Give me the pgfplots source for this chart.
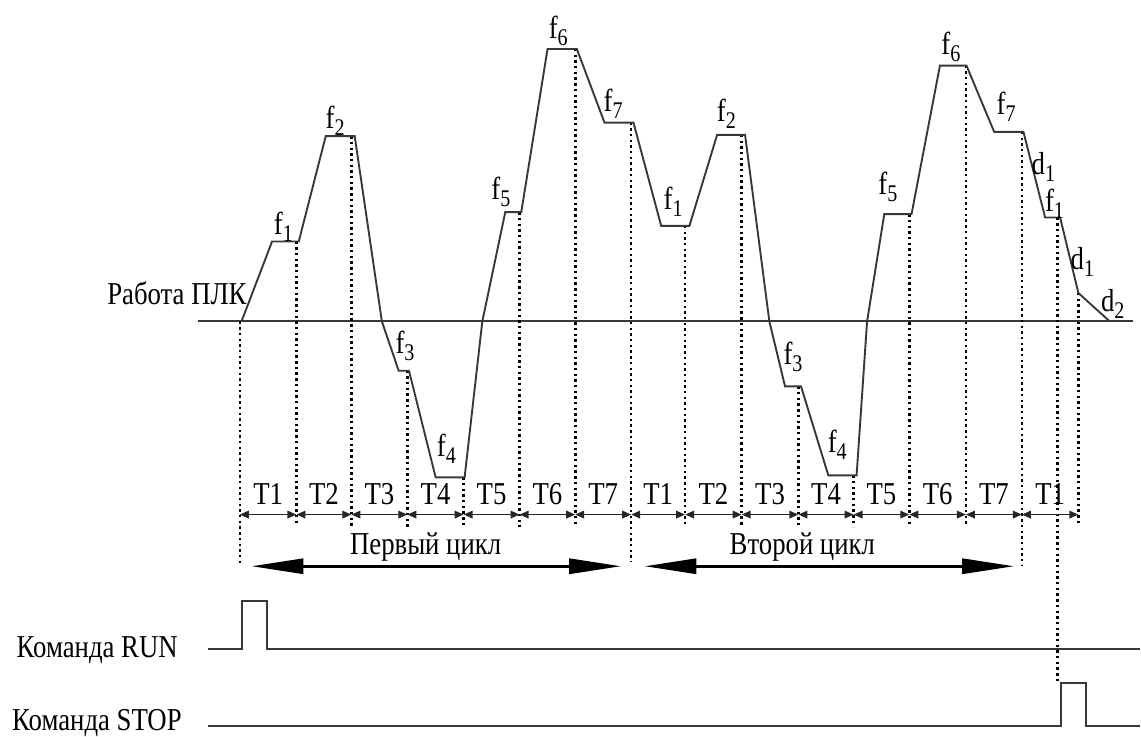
\documentclass[border=0pt]{standalone}
\usepackage{fontspec}
\setmainfont{Liberation Serif}[FakeStretch=0.84]
\usepackage{pgfplots}
\pgfplotsset{compat=1.18}
\usetikzlibrary{arrows.meta}
\newcommand\sub[1]{\raisebox{-7bp}{\fontsize{24}{24}\selectfont #1}}
\tikzset{
  lbl/.style={font=\fontsize{32}{34}\selectfont, inner sep=0pt, text=black},
  dotl/.style={black, line width=2.6bp, dash pattern=on 2.4bp off 3.3bp},
  tarr/.style={black!85, line width=1.8bp, {Triangle[length=9bp,width=7.5bp]}-{Triangle[length=9bp,width=7.5bp]}},
  carr/.style={black, line width=3bp, {Triangle[length=52bp,width=15bp]}-{Triangle[length=52bp,width=15bp]}},
  curve/.style={black!78, line width=1.9bp, line join=miter},
}
\begin{document}
\begin{tikzpicture}
\begin{axis}[width=1141bp, height=737bp, scale only axis, hide axis,
  xmin=0, xmax=1141, ymin=0, ymax=737, y dir=reverse, clip=false]
\path (rel axis cs:0,0) rectangle (rel axis cs:1,1);
% baseline
\addplot[black!78, line width=1.9bp] coordinates {(198,321.7) (1134,321.7)};
% dotted verticals
\addplot[dotl] coordinates {(240,321.7) (240,566.7)};
\addplot[dotl] coordinates {(296.7,241.7) (296.7,523)};
\addplot[dotl] coordinates {(351.7,136.3) (351.7,527)};
\addplot[dotl] coordinates {(407.7,371) (407.7,527)};
\addplot[dotl] coordinates {(464,477.7) (464,527)};
\addplot[dotl] coordinates {(520,212.3) (520,527)};
\addplot[dotl] coordinates {(575.7,49) (575.7,527)};
\addplot[dotl] coordinates {(631.7,122.7) (631.7,561.7)};
\addplot[dotl] coordinates {(685.7,226) (685.7,527)};
\addplot[dotl] coordinates {(742.3,135) (742.3,527)};
\addplot[dotl] coordinates {(799,386.7) (799,527)};
\addplot[dotl] coordinates {(854.3,475.7) (854.3,527)};
\addplot[dotl] coordinates {(910,214.3) (910,527)};
\addplot[dotl] coordinates {(966.7,65.7) (966.7,527)};
\addplot[dotl] coordinates {(1022.7,132) (1022.7,566.7)};
\addplot[dotl] coordinates {(1058.3,217.7) (1058.3,683)};
\addplot[dotl] coordinates {(1079.3,293.3) (1079.3,525)};
% main curve
\addplot[curve] coordinates {
(241.7,321.7) (272.3,241.7) (299,241.7) (326,136.3) (355,136.3) (382.2,321.7)
(399,371) (409.3,371) (436,477.7) (465,477.7) (482.7,321.7) (505.7,212.3)
(521.7,212.3) (548,49) (577.3,49) (605,122.7) (634,122.7) (661.7,226) (690,226)
(717.7,135) (745.7,135) (770,321.7) (785.7,386.7) (801.7,386.7) (829,475.7)
(857.3,475.7) (867.8,321.7) (885,214.3) (912.3,214.3) (940.7,65.7) (967.3,65.7)
(995,132) (1024.3,132) (1046,217.7) (1061,217.7) (1079.3,293.3) (1110.7,321.7)};
% interval arrows
\addplot[tarr] coordinates {(240,515) (296.7,515)};
\addplot[tarr] coordinates {(296.7,515) (351.7,515)};
\addplot[tarr] coordinates {(351.7,515) (407.7,515)};
\addplot[tarr] coordinates {(407.7,515) (464,515)};
\addplot[tarr] coordinates {(464,515) (520,515)};
\addplot[tarr] coordinates {(520,515) (575.7,515)};
\addplot[tarr] coordinates {(575.7,515) (631.7,515)};
\addplot[tarr] coordinates {(631.7,515) (685.7,515)};
\addplot[tarr] coordinates {(685.7,515) (742.3,515)};
\addplot[tarr] coordinates {(742.3,515) (799,515)};
\addplot[tarr] coordinates {(799,515) (854.3,515)};
\addplot[tarr] coordinates {(854.3,515) (910,515)};
\addplot[tarr] coordinates {(910,515) (966.7,515)};
\addplot[tarr] coordinates {(966.7,515) (1022.7,515)};
\addplot[tarr] coordinates {(1022.7,515) (1079.3,515)};
% cycle arrows
\addplot[carr] coordinates {(251.7,566.7) (621.7,566.7)};
\addplot[carr] coordinates {(645,566.7) (1015,566.7)};
% RUN / STOP signals
\addplot[black!78, line width=1.9bp] coordinates {(208,649.3) (242.3,649.3) (242.3,601.7) (267.3,601.7) (267.3,649.3) (1141,649.3)};
\addplot[black!78, line width=1.9bp] coordinates {(208,726.7) (1061.6,726.7) (1061.6,683.5) (1086.5,683.5) (1086.5,726.7) (1141,726.7)};
% labels
\node[lbl, anchor=base east] at (axis cs:247,305) {Работа ПЛК};
\node[lbl, anchor=base east] at (axis cs:178,658) {Команда RUN};
\node[lbl, anchor=base east] at (axis cs:182,731) {Команда STOP};
\node[lbl, anchor=base] at (axis cs:426,555) {Первый цикл};
\node[lbl, anchor=base] at (axis cs:803,555) {Второй цикл};
% T labels
\node[lbl, anchor=base] at (axis cs:268.4,505) {T1};
\node[lbl, anchor=base] at (axis cs:324.2,505) {T2};
\node[lbl, anchor=base] at (axis cs:379.7,505) {T3};
\node[lbl, anchor=base] at (axis cs:435.9,505) {T4};
\node[lbl, anchor=base] at (axis cs:492,505) {T5};
\node[lbl, anchor=base] at (axis cs:547.9,505) {T6};
\node[lbl, anchor=base] at (axis cs:603.7,505) {T7};
\node[lbl, anchor=base] at (axis cs:658.7,505) {T1};
\node[lbl, anchor=base] at (axis cs:714,505) {T2};
\node[lbl, anchor=base] at (axis cs:770.7,505) {T3};
\node[lbl, anchor=base] at (axis cs:826.7,505) {T4};
\node[lbl, anchor=base] at (axis cs:882.2,505) {T5};
\node[lbl, anchor=base] at (axis cs:938.4,505) {T6};
\node[lbl, anchor=base] at (axis cs:994.7,505) {T7};
\node[lbl, anchor=base] at (axis cs:1051,505) {T1};
% f labels
\node[lbl, anchor=base west] at (axis cs:274,235) {f\sub{1}};
\node[lbl, anchor=base west] at (axis cs:325.7,128.3) {f\sub{2}};
\node[lbl, anchor=base west] at (axis cs:395.7,353.3) {f\sub{3}};
\node[lbl, anchor=base west] at (axis cs:437,456.7) {f\sub{4}};
\node[lbl, anchor=base west] at (axis cs:491.7,200) {f\sub{5}};
\node[lbl, anchor=base west] at (axis cs:549,38.3) {f\sub{6}};
\node[lbl, anchor=base west] at (axis cs:604,111.7) {f\sub{7}};
\node[lbl, anchor=base west] at (axis cs:664,210) {f\sub{1}};
\node[lbl, anchor=base west] at (axis cs:717.3,121.7) {f\sub{2}};
\node[lbl, anchor=base west] at (axis cs:784,365) {f\sub{3}};
\node[lbl, anchor=base west] at (axis cs:828.3,453.3) {f\sub{4}};
\node[lbl, anchor=base west] at (axis cs:879,195) {f\sub{5}};
\node[lbl, anchor=base west] at (axis cs:942,55) {f\sub{6}};
\node[lbl, anchor=base west] at (axis cs:997.3,115) {f\sub{7}};
\node[lbl, anchor=base west] at (axis cs:1032.3,175) {d\sub{1}};
\node[lbl, anchor=base west] at (axis cs:1045.7,211.7) {f\sub{1}};
\node[lbl, anchor=base west] at (axis cs:1071.3,270) {d\sub{1}};
\node[lbl, anchor=base west] at (axis cs:1101.7,311.7) {d\sub{2}};
\end{axis}
\end{tikzpicture}
\end{document}
